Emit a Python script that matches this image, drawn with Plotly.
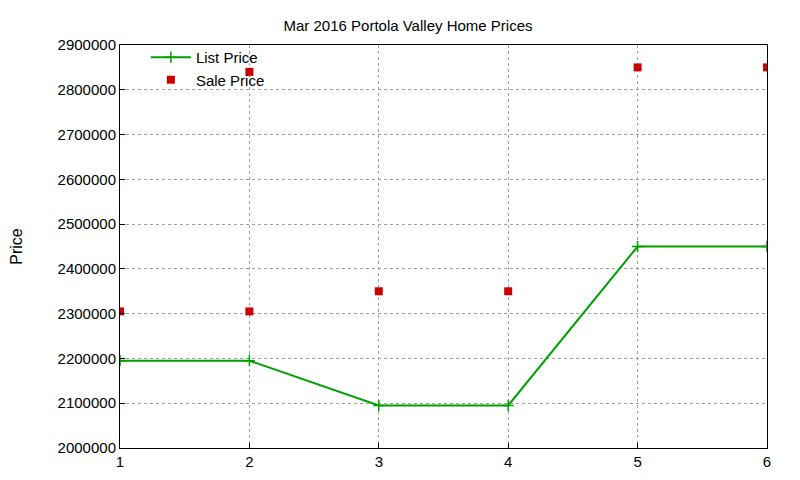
import plotly.graph_objects as go

list_x = [1, 2, 3, 4, 5, 6]
list_price = [2195000, 2195000, 2095000, 2095000, 2450000, 2450000]
sale_x = [1, 2, 2, 3, 4, 5, 6]
sale_price = [2305000, 2305000, 2840000, 2350000, 2350000, 2850000, 2850000]

fig = go.Figure()
fig.add_trace(go.Scatter(x=list_x, y=list_price, name="List Price", mode="lines+markers",
                         line=dict(color="#00a000", width=2),
                         marker=dict(symbol="cross-thin", size=8, line=dict(color="#00a000", width=1.5))))
fig.add_trace(go.Scatter(x=sale_x, y=sale_price, name="Sale Price", mode="markers",
                         marker=dict(symbol="square", size=8, color="#cc0000")))

grid = dict(showgrid=True, gridcolor="#a0a0a0", griddash="dot", gridwidth=1,
            showline=True, mirror=True, linecolor="black", linewidth=1,
            ticks="inside", ticklen=5, tickcolor="black", zeroline=False, automargin=False,
            tickfont=dict(size=15, color="black"))
fig.update_xaxes(range=[1, 6], dtick=1, **grid)
fig.update_yaxes(range=[2000000, 2900000], dtick=100000, tickformat="d",
                 title=dict(text="Price", font=dict(size=16, color="black"), standoff=30), **grid)
fig.update_layout(
    width=800, height=480, plot_bgcolor="white", paper_bgcolor="white",
    font=dict(family="Liberation Sans, Arial, sans-serif", color="black"),
    title=dict(text="Mar 2016 Portola Valley Home Prices", x=0.5, xanchor="center", y=0.975,
               font=dict(size=15, color="black")),
    margin=dict(l=112, r=41, t=37, b=40),
    legend=dict(x=0.04, y=1.01, xanchor="left", yanchor="top", bgcolor="rgba(0,0,0,0)",
                font=dict(size=15), tracegroupgap=0, itemwidth=40),
    showlegend=True,
)
fig.write_html("out.html")
